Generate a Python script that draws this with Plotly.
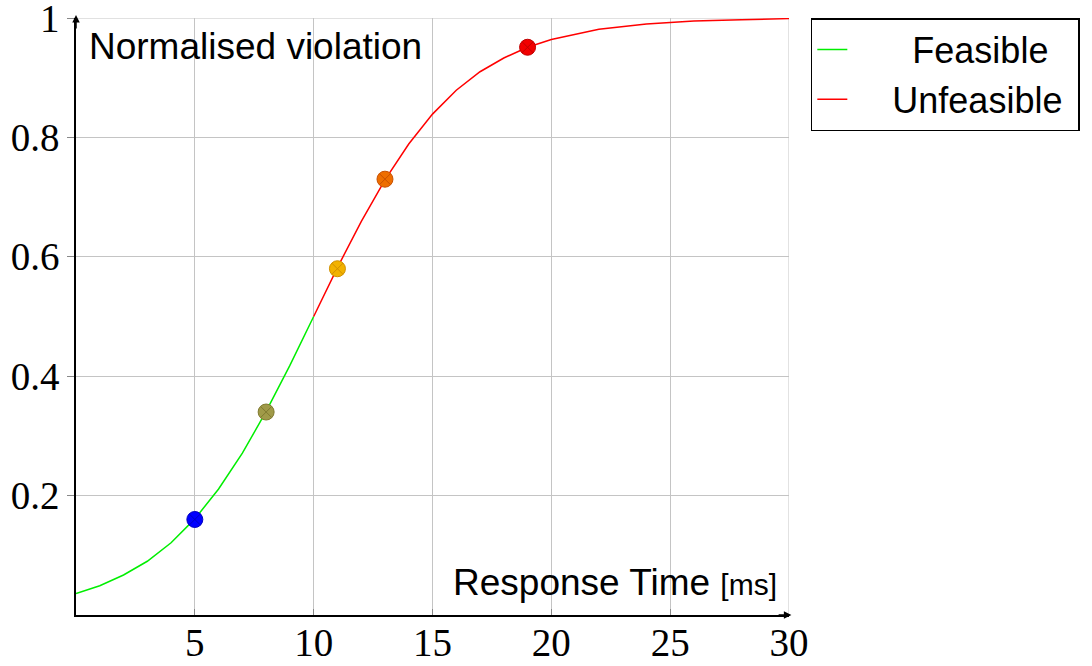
import plotly.graph_objects as go

# Curve samples
feasible_x = [0, 1, 2, 3, 4, 5, 6, 7, 8, 9, 10]
feasible_y = [0.036, 0.049, 0.067, 0.090, 0.121, 0.161, 0.211, 0.271, 0.341, 0.418, 0.500]
unfeasible_x = [10, 11, 12, 13, 14, 15, 16, 17, 18, 19, 20, 21, 22, 24, 26, 28, 30]
unfeasible_y = [0.500, 0.582, 0.659, 0.729, 0.789, 0.839, 0.879, 0.910, 0.933, 0.951,
                0.964, 0.973, 0.981, 0.990, 0.995, 0.997, 0.999]

# Highlighted points
point_x = [5, 8, 11, 13, 19]
point_y = [0.16, 0.34, 0.58, 0.73, 0.951]
point_colors = ["#0000ff", "#a09a48", "#f2b200", "#ee6e00", "#f20000"]
point_lines = ["#0000c0", "#807a30", "#d09000", "#c85000", "#c00000"]

x_ticks = [5, 10, 15, 20, 25, 30]
y_ticks = [0.2, 0.4, 0.6, 0.8, 1]
y_tick_text = ["0.2", "0.4", "0.6", "0.8", "1"]

NB = "\u00a0"

fig = go.Figure()
fig.add_trace(go.Scatter(x=feasible_x, y=feasible_y, mode="lines",
                         name=NB * 6 + "Feasible" + NB * 2,
                         line=dict(color="#00ee00", width=1.5)))
fig.add_trace(go.Scatter(x=unfeasible_x, y=unfeasible_y, mode="lines",
                         name=NB * 4 + "Unfeasible" + NB,
                         line=dict(color="#ff0000", width=1.5)))
fig.add_trace(go.Scatter(x=point_x, y=point_y, mode="markers", showlegend=False,
                         marker=dict(symbol="circle-x", size=16, color=point_colors,
                                     line=dict(color=point_lines, width=1))))

grid = "#c4c4c4"
fig.update_layout(
    width=1092, height=666,
    margin=dict(l=76, r=297, t=18, b=51),
    paper_bgcolor="white", plot_bgcolor="white",
    font=dict(family="Liberation Sans", size=34, color="black"),
    legend=dict(x=1.0306, y=1, xanchor="left", yanchor="top",
                bordercolor="black", borderwidth=1.5, bgcolor="white",
                font=dict(family="Liberation Sans", size=36), tracegroupgap=0),
    xaxis=dict(range=[0, 30], tickvals=x_ticks, showgrid=True, gridcolor=grid,
               gridwidth=1, zeroline=False, showline=True, linecolor="black", linewidth=1.5,
               ticks="inside", ticklen=6, tickcolor="#888", tickwidth=1, automargin=False,
               ticklabeloverflow="allow", ticklabelstandoff=-8,
               tickfont=dict(family="Liberation Serif", size=39)),
    yaxis=dict(range=[0, 1], tickvals=y_ticks, ticktext=y_tick_text, showgrid=True,
               gridcolor=grid, gridwidth=1, zeroline=False, showline=True,
               linecolor="black", linewidth=1.5, ticks="outside", ticklen=7,
               tickcolor="#888", tickwidth=1, automargin=False,
               ticklabeloverflow="allow",
               tickfont=dict(family="Liberation Serif", size=39)),
)

# Edge grid lines (top and right)
fig.add_shape(type="line", xref="x", yref="y", x0=0, x1=30, y0=1, y1=1,
              line=dict(color=grid, width=1), layer="below")
fig.add_shape(type="line", xref="x", yref="y", x0=30, x1=30, y0=0, y1=1,
              line=dict(color=grid, width=1), layer="below")

# Axis arrows
fig.add_annotation(x=30.1, y=0, ax=29.5, ay=0, xref="x", yref="y", axref="x", ayref="y",
                   showarrow=True, arrowhead=2, arrowsize=1, arrowwidth=1.5,
                   arrowcolor="black", text="")
fig.add_annotation(x=0, y=1.005, ax=0, ay=0.98, xref="x", yref="y", axref="x", ayref="y",
                   showarrow=True, arrowhead=2, arrowsize=1, arrowwidth=1.5,
                   arrowcolor="black", text="")

# Axis labels
fig.add_annotation(x=0.45, y=0.953, xref="x", yref="y", xanchor="left", yanchor="middle",
                   text="Normalised violation", showarrow=False,
                   font=dict(family="Liberation Sans", size=37))
fig.add_annotation(x=29.6, y=0.055, xref="x", yref="y", xanchor="right", yanchor="middle",
                   text="Response Time <span style='font-size:30px'>[ms]</span>",
                   showarrow=False, font=dict(family="Liberation Sans", size=37))

fig.write_html("out.html", config={"displayModeBar": False},
               post_script="document.body.style.margin='0';document.body.style.overflow='hidden';")
